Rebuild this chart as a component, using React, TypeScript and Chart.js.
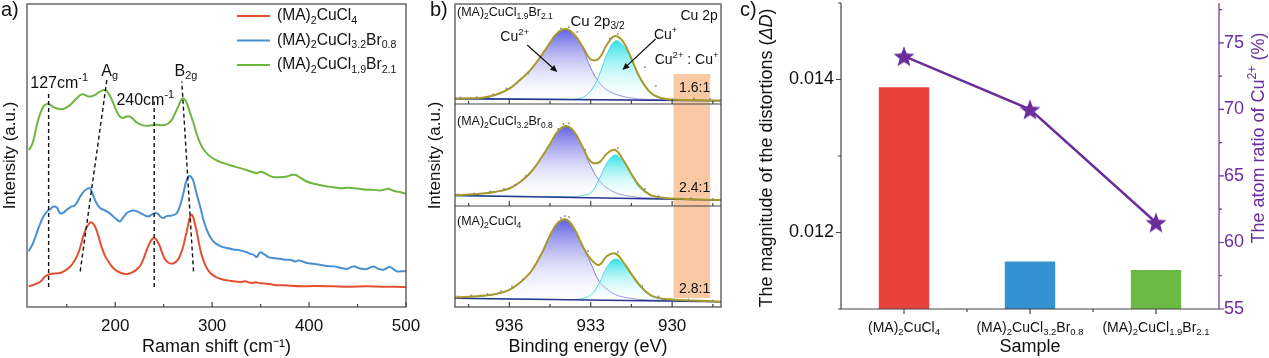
import React, { useEffect, useRef } from 'react';
import { Chart, registerables } from 'chart.js';

Chart.register(...registerables);

const FONT = '"Liberation Sans", Arial, Helvetica, sans-serif';

// ---------------- Panel a: Raman spectra ----------------
const RAMAN_X_MIN = 109;
const RAMAN_X_MAX = 500;
const RAMAN_TICKS = [200, 300, 400, 500];
const RAMAN_MINOR = [150, 250, 350, 450];
const RAMAN_Y_MAX = 910;

const SERIES_NAMES = [
  '(MA)_{2}CuCl_{4}',
  '(MA)_{2}CuCl_{3.2}Br_{0.8}',
  '(MA)_{2}CuCl_{1.9}Br_{2.1}',
];
const SERIES_COLORS = ['#E2502F', '#4A8FD0', '#6DB63F'];

const RED_X = [110.7, 117, 122.7, 127.8, 133, 138, 143, 147, 152, 156, 160.5, 164, 167, 170, 173.5, 175.5, 177.7, 180, 182.8, 186, 189.7, 194, 198, 203, 208.6, 213, 217, 221, 225.8, 229, 232.6, 236, 238.5, 240.2, 242, 245.7, 248.5, 251.5, 255, 258.4, 262, 265, 267, 270, 272, 273.9, 276, 277.5, 279, 280.5, 282, 284, 286.5, 289, 293, 298, 304, 311.7, 316, 320, 329, 334, 340, 345, 350, 356.5, 365, 375, 390.7, 405, 425, 440, 459.5, 475, 490, 500];
const RED_Y = [62, 68, 76, 92, 99, 101, 102, 107, 117, 130, 152, 180, 212, 236, 252, 254, 249, 236, 212, 180, 152, 132, 117, 106, 100, 99, 103, 110, 124, 143, 172, 195, 205, 207, 204, 185, 162, 143, 133, 130, 134, 143, 155, 180, 205, 228, 258, 273, 277, 270, 252, 228, 190, 158, 125, 102, 90, 82, 80, 78, 75, 77, 72, 74, 71, 70, 66, 65, 62, 63, 62, 61, 62, 61, 61, 60];

const BLUE_X = [110.7, 115, 119, 122.5, 126, 130, 133, 136.5, 140, 143, 146.5, 150, 153, 155, 158, 161, 163.9, 168, 172.5, 175, 177.7, 181, 184.5, 188, 191.4, 195, 198, 201.5, 205, 208, 212, 215.5, 219, 222.5, 225.8, 230, 234.4, 238, 243, 246.5, 249.8, 253, 256.7, 260, 263.6, 267, 270.4, 273, 276.3, 278.5, 280.8, 284, 287.6, 291, 294.5, 298.5, 303, 309, 315, 322, 328.9, 335, 339, 342.6, 346, 349.5, 354, 358, 363, 370, 375, 380, 386, 390, 397.6, 404, 411, 418, 425, 432, 438.8, 445.7, 452, 459.5, 466.3, 471, 476.6, 483.5, 490.4, 495, 500];
const BLUE_Y = [167, 190, 222, 250, 272, 288, 294, 302, 298, 282, 283, 292, 298, 302, 304, 316, 332, 348, 357, 352, 332, 310, 297, 292, 287, 280, 272, 263, 257, 268, 282, 288, 290, 287, 282, 276, 272, 278, 282, 272, 267, 273, 274, 276, 282, 305, 342, 375, 394, 390, 377, 340, 302, 262, 232, 208, 192, 182, 177, 173, 170, 165, 160, 157, 150, 164, 158, 150, 147, 145, 142, 142, 137, 140, 132, 130, 127, 123, 122, 118, 114, 122, 116, 114, 122, 115, 112, 120, 107, 107, 107];

const GREEN_X = [110.7, 113, 115.8, 119, 122.7, 126, 129.6, 133, 136.5, 140, 145, 149, 153.6, 157, 160.5, 163.5, 166.7, 169.5, 172.5, 176, 179.4, 183, 186.3, 188.5, 190.7, 193.5, 196.6, 200, 203.4, 207, 210.3, 213, 215.5, 219, 222.3, 227, 232.6, 238, 243, 247, 251.5, 255, 258.4, 261.5, 265.3, 268, 269.8, 272, 273.9, 277, 280.8, 284, 287.6, 292, 298, 305, 311.7, 320, 328.9, 337, 346, 350, 353, 358, 363, 370, 376.8, 381, 385.6, 390, 397.6, 405, 414.8, 423, 432, 440, 445.7, 452, 459.5, 466, 473, 477, 481.8, 486, 490.4, 495, 500];
const GREEN_Y = [472, 480, 502, 545, 582, 602, 610, 607, 600, 596, 594, 598, 607, 617, 627, 636, 639, 636, 632, 633, 637, 645, 650, 652, 650, 640, 622, 598, 577, 568, 570, 573, 572, 563, 554, 547, 544, 546, 547, 546, 547, 552, 562, 580, 604, 622, 627, 622, 612, 585, 552, 520, 492, 470, 452, 440, 432, 424, 417, 410, 402, 406, 404, 396, 390, 390, 392, 396, 397, 390, 377, 370, 364, 360, 357, 358, 357, 355, 352, 352, 350, 352, 355, 350, 347, 344, 340];

// dashed guide lines (x pairs, y pairs)
const GUIDE_X = [[131.3, 131.3], [163.9, 191.4], [240.2, 240.2], [280.8, 268.7]];
const GUIDE_Y = [[60, 642], [107, 682], [60, 617], [107, 677]];
const PEAK_LABELS = ['127cm^{-1}', 'A_{g}', '240cm^{-1}', 'B_{2g}'];
const PEAK_LABEL_X = [112.4, 194.3, 231, 273];
const PEAK_LABEL_Y = [672, 707, 620, 707];
const PEAK_LABEL_ALIGN = ['left', 'center', 'center', 'center'];

// ---------------- Panel b: XPS Cu 2p ----------------
const BE_MIN = 928.2;
const BE_MAX = 938.0;
const BE_TICKS = [936, 933, 930];
const BE_MINOR = [937.5, 934.5, 931.5, 928.5];
const XPS_Y_MAX = 303;
const XPS_SEPARATORS = [101, 203];
const BE = [938.0, 937.5, 937.0, 936.5, 936.0, 935.6, 935.2, 934.8, 934.5, 934.2, 933.9, 933.6, 933.3, 933.0, 932.7, 932.4, 932.1, 931.8, 931.5, 931.2, 930.8, 930.4, 930.0, 929.5, 929.0, 928.2];

// top: (MA)2CuCl1.9Br2.1
const CU2_TOP = [208, 208.4, 208.8, 212, 218, 227, 237.5, 252, 264, 274.5, 277.7, 272, 259, 239, 225, 217, 213, 210.5, 209, 208, 207.5, 207.2, 207, 206.9, 206.7, 206.4];
const CU1_TOP = [208, 208, 207.9, 207.9, 207.8, 207.8, 207.7, 207.7, 207.6, 207.6, 207.6, 207.7, 209.5, 216, 231, 253, 266, 261.5, 247, 229, 214, 208.5, 207.2, 206.9, 206.7, 206.4];
const ENV_TOP = [208.3, 208.7, 209.2, 212.3, 218.3, 227.2, 237.7, 252.2, 264.2, 274.7, 278, 272.2, 260.5, 247.5, 248.5, 262.5, 271, 265, 248.5, 230, 214.5, 209, 207.4, 207, 206.8, 206.4];
const RAW_TOP_BE = [937.8, 937.2, 936.6, 936.1, 935.7, 935.3, 934.4, 934.1, 933.8, 933.5, 932.3, 932.0, 931.0, 930.6, 929.2, 928.6];
const RAW_TOP_V = [209.5, 209.8, 212.5, 218.5, 224.5, 233.5, 268.5, 278.5, 280, 275, 268.5, 273, 240, 221, 208.6, 208];
// middle: (MA)2CuCl3.2Br0.8
const CU2_MID = [111.5, 112.3, 113.3, 115.1, 118.3, 124.8, 134.8, 149.8, 162.8, 175.8, 180.8, 174.8, 159.5, 141, 127, 119, 114.5, 112, 110.5, 109.5, 109, 108.5, 108.3, 108, 107.5, 107];
const CU1_MID = [111, 111, 111, 111, 110.8, 110.8, 110.7, 110.6, 110.5, 110.5, 110.4, 110.5, 111.5, 114, 127, 144, 152, 145, 132, 119, 112, 109.3, 108.5, 108, 107.5, 107];
const ENV_MID = [111.7, 112.5, 113.5, 115.3, 118.5, 125, 135, 150, 163, 176, 181, 175, 160, 145.5, 144.5, 153.5, 157, 147, 133, 121, 112, 109.5, 108.5, 108, 107.5, 107];
const RAW_MID_BE = [937.9, 937.3, 936.7, 936.2, 935.8, 935.4, 934.2, 934.0, 933.8, 933.2, 932.0, 931.0, 930.5, 929.3, 928.5];
const RAW_MID_V = [112.5, 113.5, 115.5, 118, 122, 131, 178, 183, 183.5, 157, 159, 118, 111, 108.8, 108];
// bottom: (MA)2CuCl4
const CU2_BOT = [9.3, 10, 11, 12.8, 17, 24.3, 35.3, 53.8, 71.3, 84.3, 87.3, 77.8, 60.5, 44, 26, 18, 12.5, 10, 8.5, 7.5, 7, 6.7, 6.5, 6.3, 6, 5.3];
const CU1_BOT = [8.7, 8.5, 8.4, 8.2, 8, 7.9, 7.8, 7.7, 7.6, 7.5, 7.5, 7.5, 8.5, 12, 23, 40, 48, 43.5, 32, 21, 11, 8, 7, 6.5, 6, 5.3];
const ENV_BOT = [9.5, 10.2, 11.2, 13, 17.2, 24.5, 35.5, 54, 71.5, 84.5, 87.5, 78, 61, 48, 42, 51, 53.5, 45, 33, 22, 12, 8.5, 7.5, 6.7, 6.2, 5.3];
const RAW_BOT_BE = [937.9, 937.4, 936.8, 936.3, 935.9, 935.5, 934.1, 933.95, 933.8, 933.1, 932.0, 931.1, 930.5, 929.4, 928.5];
const RAW_BOT_V = [10.5, 11.5, 13, 16, 20.5, 27.5, 89, 91, 90, 56, 55, 21, 10.5, 7.5, 6.5];

const BG_BE = [938.0, 928.2];
const BG_TOP = [208.4, 206.3];
const BG_MID = [111.5, 107];
const BG_BOT = [8.7, 5.3];
const XPS_BASE = [207.3, 109.3, 7];

const XPS_SAMPLE_LABELS = ['(MA)_{2}CuCl_{1.9}Br_{2.1}', '(MA)_{2}CuCl_{3.2}Br_{0.8}', '(MA)_{2}CuCl_{4}'];
const XPS_SAMPLE_Y = [294, 185.3, 85.3];
const RATIO_LABELS = ['1.6:1', '2.4:1', '2.8:1'];
const RATIO_Y = [219, 119, 18];
const RATIO_BAND = { from: 929.95, to: 928.6, top: 233, bottom: 9 };

// ---------------- Panel c: distortion & Cu2+ ratio ----------------
const SAMPLES = ['(MA)2CuCl4', '(MA)2CuCl3.2Br0.8', '(MA)2CuCl1.9Br2.1'];
const SAMPLE_LABELS = ['(MA)_{2}CuCl_{4}', '(MA)_{2}CuCl_{3.2}Br_{0.8}', '(MA)_{2}CuCl_{1.9}Br_{2.1}'];
const DISTORTION = [0.0139, 0.01162, 0.01151];
const CU2_RATIO = [74.0, 70.0, 61.5];
const BAR_COLORS = ['#E8423A', '#3492D2', '#6CBA44'];
const LEFT_TICKS = [0.011, 0.012, 0.013, 0.014, 0.015];
const LEFT_LABELLED = [0.012, 0.014];
const RIGHT_TICKS = [55, 60, 65, 70, 75];
const RIGHT_MINOR = [57.5, 62.5, 67.5, 72.5, 77.5];
const PURPLE = '#6B2D9C';

// ---------------- rich text helper ----------------
type Seg = { t: string; k: string };
function parseRich(s: string): Seg[] {
  const segs: Seg[] = [];
  let buf = '';
  let i = 0;
  while (i < s.length) {
    const c = s[i];
    if ((c === '_' || c === '^' || c === '*') && s[i + 1] === '{') {
      if (buf) { segs.push({ t: buf, k: 'n' }); buf = ''; }
      const end = s.indexOf('}', i + 2);
      segs.push({ t: s.slice(i + 2, end), k: c === '_' ? 'sub' : c === '^' ? 'sup' : 'it' });
      i = end + 1;
    } else { buf += c; i++; }
  }
  if (buf) segs.push({ t: buf, k: 'n' });
  return segs;
}

function drawRich(ctx: CanvasRenderingContext2D, s: string, x: number, y: number, size: number,
  color: string, align: string = 'left', rot: number = 0) {
  const segs = parseRich(s);
  let w = 0;
  const parts = segs.map((sg) => {
    const small = sg.k === 'sub' || sg.k === 'sup';
    const sz = small ? size * 0.68 : size;
    const f = `${sg.k === 'it' ? 'italic ' : ''}${sz}px ${FONT}`;
    ctx.font = f;
    const mw = ctx.measureText(sg.t).width;
    const dy = sg.k === 'sub' ? size * 0.3 : sg.k === 'sup' ? -size * 0.34 : 0;
    const p = { t: sg.t, f, x: w, dy };
    w += mw;
    return p;
  });
  ctx.save();
  ctx.translate(x, y);
  if (rot) ctx.rotate(rot);
  const x0 = align === 'center' ? -w / 2 : align === 'right' ? -w : 0;
  ctx.fillStyle = color;
  ctx.textBaseline = 'middle';
  ctx.textAlign = 'left';
  for (const p of parts) { ctx.font = p.f; ctx.fillText(p.t, x0 + p.x, p.dy); }
  ctx.restore();
}

function drawArrow(ctx: CanvasRenderingContext2D, x1: number, y1: number, x2: number, y2: number) {
  const ang = Math.atan2(y2 - y1, x2 - x1);
  const hl = 7, hw = 3.2;
  ctx.save();
  ctx.strokeStyle = '#111';
  ctx.fillStyle = '#111';
  ctx.lineWidth = 1.2;
  ctx.beginPath();
  ctx.moveTo(x1, y1);
  ctx.lineTo(x2 - Math.cos(ang) * hl * 0.8, y2 - Math.sin(ang) * hl * 0.8);
  ctx.stroke();
  ctx.beginPath();
  ctx.moveTo(x2, y2);
  ctx.lineTo(x2 - hl * Math.cos(ang) + hw * Math.sin(ang), y2 - hl * Math.sin(ang) - hw * Math.cos(ang));
  ctx.lineTo(x2 - hl * Math.cos(ang) - hw * Math.sin(ang), y2 - hl * Math.sin(ang) + hw * Math.cos(ang));
  ctx.closePath();
  ctx.fill();
  ctx.restore();
}

function zip(xs: number[], ys: number[]) {
  return xs.map((x, i) => ({ x, y: ys[i] }));
}

// fixes a scale's box size and removes automatic label padding
function fixSize(dim: 'width' | 'height', size: number) {
  return (s: any) => {
    s[dim] = size;
    s.paddingTop = 0; s.paddingBottom = 0; s.paddingLeft = 0; s.paddingRight = 0;
  };
}

// ---------------- Panel a ----------------
function PanelA() {
  const ref = useRef<HTMLCanvasElement>(null);
  useEffect(() => {
    const plugin = {
      id: 'panelA',
      afterDraw(chart: any) {
        const { ctx, chartArea: a, scales } = chart;
        const x = scales.x, y = scales.y;
        ctx.save();
        ctx.strokeStyle = '#444';
        ctx.lineWidth = 1.2;
        ctx.strokeRect(a.left, a.top, a.right - a.left, a.bottom - a.top);
        ctx.beginPath();
        RAMAN_TICKS.forEach((v) => { const px = x.getPixelForValue(v); ctx.moveTo(px, a.bottom); ctx.lineTo(px, a.bottom - 5); });
        RAMAN_MINOR.forEach((v) => { const px = x.getPixelForValue(v); ctx.moveTo(px, a.bottom); ctx.lineTo(px, a.bottom - 3); });
        ctx.stroke();
        // legend
        SERIES_NAMES.forEach((name, i) => {
          const ly = 16 + i * 24.5;
          ctx.strokeStyle = SERIES_COLORS[i];
          ctx.lineWidth = 2;
          ctx.beginPath();
          ctx.moveTo(237, ly);
          ctx.lineTo(270, ly);
          ctx.stroke();
          drawRich(ctx, name, 277, ly, 15.6, '#111', 'left');
        });
        PEAK_LABELS.forEach((t, i) => {
          drawRich(ctx, t, x.getPixelForValue(PEAK_LABEL_X[i]), y.getPixelForValue(PEAK_LABEL_Y[i]), 16, '#111', PEAK_LABEL_ALIGN[i]);
        });
        drawRich(ctx, 'a)', 1, 10, 20, '#111', 'left');
        ctx.restore();
      },
    };
    const datasets: any[] = [
      ...GUIDE_X.map((gx, i) => ({
        data: zip(gx, GUIDE_Y[i]), borderColor: '#111', borderWidth: 1.4, borderDash: [4, 3],
        pointRadius: 0, tension: 0,
      })),
      { data: zip(RED_X, RED_Y), borderColor: SERIES_COLORS[0], borderWidth: 2, pointRadius: 0, tension: 0.35 },
      { data: zip(BLUE_X, BLUE_Y), borderColor: SERIES_COLORS[1], borderWidth: 2, pointRadius: 0, tension: 0.35 },
      { data: zip(GREEN_X, GREEN_Y), borderColor: SERIES_COLORS[2], borderWidth: 2, pointRadius: 0, tension: 0.35 },
    ];
    const chart = new Chart(ref.current!, {
      type: 'line',
      data: { datasets },
      options: {
        animation: false, responsive: false, maintainAspectRatio: false,
        layout: { padding: { top: 4, right: 19, left: 0, bottom: 0 }, autoPadding: false },
        plugins: { legend: { display: false }, tooltip: { enabled: false } },
        scales: {
          x: {
            type: 'linear', min: RAMAN_X_MIN, max: RAMAN_X_MAX,
            afterBuildTicks: (s: any) => { s.ticks = RAMAN_TICKS.map((v) => ({ value: v })); },
            afterFit: fixSize('height', 51),
            grid: { display: false, drawTicks: false }, border: { display: false },
            ticks: { color: '#111', font: { family: FONT, size: 17 }, padding: 9, maxRotation: 0 },
            title: { display: true, text: 'Raman shift (cm⁻¹)', color: '#111', font: { family: FONT, size: 18 }, padding: 0 },
          },
          y: {
            type: 'linear', min: 0, max: RAMAN_Y_MAX,
            afterFit: fixSize('width', 27),
            grid: { display: false, drawTicks: false }, border: { display: false },
            ticks: { display: false },
            title: { display: true, text: 'Intensity (a.u.)', color: '#111', font: { family: FONT, size: 17 }, padding: 0 },
          },
        },
      },
      plugins: [plugin],
    });
    return () => chart.destroy();
  }, []);
  return <canvas ref={ref} width={425} height={358} style={{ position: 'absolute', left: 0, top: 0 }} />;
}

// ---------------- Panel b ----------------
function gradientFill(topColor: string, values: number[], base: number) {
  return (c: any) => {
    const chart = c.chart;
    const { chartArea, scales } = chart;
    if (!chartArea) return topColor;
    const peak = Math.max(...values);
    const y0 = scales.y.getPixelForValue(peak);
    const y1 = scales.y.getPixelForValue(base);
    const g = chart.ctx.createLinearGradient(0, y0, 0, y1);
    g.addColorStop(0, topColor);
    g.addColorStop(1, 'rgba(255,255,255,0.15)');
    return g;
  };
}

function PanelB() {
  const ref = useRef<HTMLCanvasElement>(null);
  useEffect(() => {
    const plugin = {
      id: 'panelB',
      beforeDatasetsDraw(chart: any) {
        const { ctx, scales } = chart;
        const x = scales.x, y = scales.y;
        const x1 = x.getPixelForValue(RATIO_BAND.from), x2 = x.getPixelForValue(RATIO_BAND.to);
        const y1 = y.getPixelForValue(RATIO_BAND.top), y2 = y.getPixelForValue(RATIO_BAND.bottom);
        ctx.save();
        ctx.fillStyle = '#F9C9A6';
        ctx.fillRect(Math.min(x1, x2), y1, Math.abs(x2 - x1), y2 - y1);
        ctx.restore();
      },
      afterDraw(chart: any) {
        const { ctx, chartArea: a, scales } = chart;
        const x = scales.x, y = scales.y;
        ctx.save();
        ctx.strokeStyle = '#444';
        ctx.lineWidth = 1.2;
        ctx.strokeRect(a.left, a.top, a.right - a.left, a.bottom - a.top);
        const bottoms = [0, ...XPS_SEPARATORS];
        ctx.beginPath();
        XPS_SEPARATORS.forEach((v) => { const py = y.getPixelForValue(v); ctx.moveTo(a.left, py); ctx.lineTo(a.right, py); });
        bottoms.forEach((bv) => {
          const py = bv === 0 ? a.bottom : y.getPixelForValue(bv);
          BE_TICKS.forEach((v) => { const px = x.getPixelForValue(v); ctx.moveTo(px, py); ctx.lineTo(px, py - 5); });
          BE_MINOR.forEach((v) => { const px = x.getPixelForValue(v); ctx.moveTo(px, py); ctx.lineTo(px, py - 3); });
        });
        ctx.stroke();
        XPS_SAMPLE_LABELS.forEach((t, i) => drawRich(ctx, t, a.left + 2, y.getPixelForValue(XPS_SAMPLE_Y[i]), 12.5, '#111', 'left'));
        RATIO_LABELS.forEach((t, i) => drawRich(ctx, t, x.getPixelForValue(929.17), y.getPixelForValue(RATIO_Y[i]), 14, '#111', 'center'));
        drawRich(ctx, 'Cu 2p_{3/2}', x.getPixelForValue(932.75), y.getPixelForValue(285), 15, '#111', 'center');
        drawRich(ctx, 'Cu 2p', x.getPixelForValue(928.32), y.getPixelForValue(291), 14, '#111', 'right');
        drawRich(ctx, 'Cu^{2+}', x.getPixelForValue(935.8), y.getPixelForValue(270), 14, '#111', 'center');
        drawRich(ctx, 'Cu^{+}', x.getPixelForValue(930.24), y.getPixelForValue(272), 14, '#111', 'center');
        drawRich(ctx, 'Cu^{2+} : Cu^{+}', x.getPixelForValue(928.29), y.getPixelForValue(247), 14, '#111', 'right');
        drawArrow(ctx, x.getPixelForValue(935.34), y.getPixelForValue(262), x.getPixelForValue(934.23), y.getPixelForValue(235));
        drawArrow(ctx, x.getPixelForValue(930.61), y.getPixelForValue(268), x.getPixelForValue(931.83), y.getPixelForValue(237));
        drawRich(ctx, 'b)', 5, 10, 20, '#111', 'left');
        ctx.restore();
      },
    };
    const envs = [ENV_TOP, ENV_MID, ENV_BOT];
    const cu2s = [CU2_TOP, CU2_MID, CU2_BOT];
    const cu1s = [CU1_TOP, CU1_MID, CU1_BOT];
    const bgs = [BG_TOP, BG_MID, BG_BOT];
    const raws = [zip(RAW_TOP_BE, RAW_TOP_V), zip(RAW_MID_BE, RAW_MID_V), zip(RAW_BOT_BE, RAW_BOT_V)];
    const datasets: any[] = [];
    raws.forEach((r) => datasets.push({ data: r, showLine: false, pointRadius: 0.9, pointBorderWidth: 0, pointBackgroundColor: '#8A8A7A', order: 0 }));
    envs.forEach((e) => datasets.push({ data: zip(BE, e), borderColor: '#A89A2A', borderWidth: 2, pointRadius: 0, tension: 0.4, order: 1 }));
    bgs.forEach((b) => datasets.push({ data: zip(BG_BE, b), borderColor: '#27358F', borderWidth: 1.6, pointRadius: 0, tension: 0, order: 2 }));
    cu1s.forEach((v, i) => datasets.push({
      data: zip(BE, v), borderColor: '#55D6E0', borderWidth: 1, pointRadius: 0, tension: 0.4, order: 3,
      fill: { value: XPS_BASE[i] }, backgroundColor: gradientFill('rgba(40,225,230,0.95)', v, XPS_BASE[i]),
    }));
    cu2s.forEach((v, i) => datasets.push({
      data: zip(BE, v), borderColor: '#7C7CD8', borderWidth: 1, pointRadius: 0, tension: 0.4, order: 4,
      fill: { value: XPS_BASE[i] }, backgroundColor: gradientFill('rgba(88,88,225,0.95)', v, XPS_BASE[i]),
    }));
    const chart = new Chart(ref.current!, {
      type: 'line',
      data: { datasets },
      options: {
        animation: false, responsive: false, maintainAspectRatio: false,
        layout: { padding: { top: 4, right: 14, left: 0, bottom: 0 }, autoPadding: false },
        plugins: { legend: { display: false }, tooltip: { enabled: false } },
        scales: {
          x: {
            type: 'linear', min: BE_MIN, max: BE_MAX, reverse: true,
            afterBuildTicks: (s: any) => { s.ticks = BE_TICKS.map((v) => ({ value: v })); },
            afterFit: fixSize('height', 51),
            grid: { display: false, drawTicks: false }, border: { display: false },
            ticks: { color: '#111', font: { family: FONT, size: 17 }, padding: 9, maxRotation: 0 },
            title: { display: true, text: 'Binding energy (eV)', color: '#111', font: { family: FONT, size: 18 }, padding: 0 },
          },
          y: {
            type: 'linear', min: 0, max: XPS_Y_MAX,
            afterFit: fixSize('width', 30),
            grid: { display: false, drawTicks: false }, border: { display: false },
            ticks: { display: false },
            title: { display: true, text: 'Intensity (a.u.)', color: '#111', font: { family: FONT, size: 17 }, padding: 0 },
          },
        },
      },
      plugins: [plugin],
    });
    return () => chart.destroy();
  }, []);
  return <canvas ref={ref} width={310} height={358} style={{ position: 'absolute', left: 425, top: 0 }} />;
}

// ---------------- Panel c ----------------
function makeStar(size: number, color: string) {
  const c = document.createElement('canvas');
  c.width = size; c.height = size;
  const g = c.getContext('2d')!;
  const cx = size / 2, cy = size / 2 + size * 0.05, R = size / 2, r = R * 0.42;
  g.beginPath();
  for (let i = 0; i < 10; i++) {
    const a = -Math.PI / 2 + (i * Math.PI) / 5;
    const rad = i % 2 === 0 ? R : r;
    g.lineTo(cx + rad * Math.cos(a), cy + rad * Math.sin(a));
  }
  g.closePath();
  g.fillStyle = color;
  g.fill();
  return c;
}

function PanelC() {
  const ref = useRef<HTMLCanvasElement>(null);
  useEffect(() => {
    const star = makeStar(22, PURPLE);
    const plugin = {
      id: 'panelC',
      afterDraw(chart: any) {
        const { ctx, chartArea: a, scales } = chart;
        const x = scales.x, y = scales.y, y1 = scales.y1;
        ctx.save();
        ctx.lineWidth = 1.2;
        ctx.strokeStyle = '#444';
        ctx.beginPath();
        ctx.moveTo(a.left, a.top); ctx.lineTo(a.left, a.bottom); ctx.lineTo(a.right, a.bottom);
        LEFT_TICKS.forEach((v) => {
          const py = y.getPixelForValue(v);
          const major = LEFT_LABELLED.some((l) => Math.abs(l - v) < 1e-9);
          ctx.moveTo(a.left, py); ctx.lineTo(a.left - (major ? 5 : 3), py);
        });
        SAMPLES.forEach((_, i) => {
          const px = x.getPixelForValue(i);
          ctx.moveTo(px, a.bottom); ctx.lineTo(px, a.bottom + 5);
          if (i > 0) {
            const mid = (px + x.getPixelForValue(i - 1)) / 2;
            ctx.moveTo(mid, a.bottom); ctx.lineTo(mid, a.bottom + 3);
          }
        });
        ctx.stroke();
        ctx.strokeStyle = PURPLE;
        ctx.beginPath();
        ctx.moveTo(a.right, a.top); ctx.lineTo(a.right, a.bottom);
        RIGHT_TICKS.forEach((v) => { const py = y1.getPixelForValue(v); ctx.moveTo(a.right, py); ctx.lineTo(a.right + 5, py); });
        RIGHT_MINOR.forEach((v) => { const py = y1.getPixelForValue(v); ctx.moveTo(a.right, py); ctx.lineTo(a.right + 3, py); });
        ctx.stroke();
        SAMPLE_LABELS.forEach((t, i) => drawRich(ctx, t, x.getPixelForValue(i), 328, 14, '#111', 'center'));
        drawRich(ctx, 'The magnitude of the distortions (*{ΔD})', 32, (a.top + a.bottom) / 2 + 2, 18, '#111', 'center', -Math.PI / 2);
        drawRich(ctx, 'The atom ratio of Cu^{2+} (%)', 524, 138, 18, PURPLE, 'center', -Math.PI / 2);
        drawRich(ctx, 'c)', 5, 10, 20, '#111', 'left');
        ctx.restore();
      },
    };
    const chart = new Chart(ref.current!, {
      type: 'bar',
      data: {
        labels: SAMPLES,
        datasets: [
          {
            type: 'line', data: CU2_RATIO, yAxisID: 'y1', borderColor: PURPLE, borderWidth: 2.5,
            pointStyle: star as any, pointRadius: 11, tension: 0, order: 0,
          } as any,
          {
            type: 'bar', data: DISTORTION, yAxisID: 'y', backgroundColor: BAR_COLORS, borderWidth: 0,
            barPercentage: 0.4, categoryPercentage: 1.0, order: 1,
          },
        ],
      },
      options: {
        animation: false, responsive: false, maintainAspectRatio: false,
        layout: { padding: { top: 3, right: 0, left: 0, bottom: 0 }, autoPadding: false },
        plugins: { legend: { display: false }, tooltip: { enabled: false } },
        scales: {
          x: {
            type: 'category',
            afterFit: fixSize('height', 49),
            grid: { display: false, drawTicks: false }, border: { display: false },
            ticks: { display: false },
            title: { display: true, text: 'Sample', color: '#111', font: { family: FONT, size: 18 }, padding: 0 },
          },
          y: {
            type: 'linear', position: 'left', min: 0.011, max: 0.015,
            afterBuildTicks: (s: any) => { s.ticks = LEFT_TICKS.map((v) => ({ value: v })); },
            afterFit: fixSize('width', 106),
            grid: { display: false, drawTicks: false }, border: { display: false },
            ticks: {
              color: '#111', font: { family: FONT, size: 18 }, padding: 7,
              callback: (v: any) => (LEFT_LABELLED.some((l) => Math.abs(l - Number(v)) < 1e-9) ? Number(v).toFixed(3) : ''),
            },
          },
          y1: {
            type: 'linear', position: 'right', min: 55, max: 78,
            afterBuildTicks: (s: any) => { s.ticks = RIGHT_TICKS.map((v) => ({ value: v })); },
            afterFit: fixSize('width', 50),
            grid: { display: false, drawTicks: false }, border: { display: false },
            ticks: { color: PURPLE, font: { family: FONT, size: 18 }, padding: 5 },
          },
        },
      },
      plugins: [plugin],
    });
    return () => chart.destroy();
  }, []);
  return <canvas ref={ref} width={534} height={358} style={{ position: 'absolute', left: 735, top: 0 }} />;
}

export default function App() {
  return (
    <div style={{ position: 'absolute', left: 0, top: 0, width: 1269, height: 358, background: '#fff', overflow: 'hidden' }}>
      <PanelA />
      <PanelB />
      <PanelC />
    </div>
  );
}
